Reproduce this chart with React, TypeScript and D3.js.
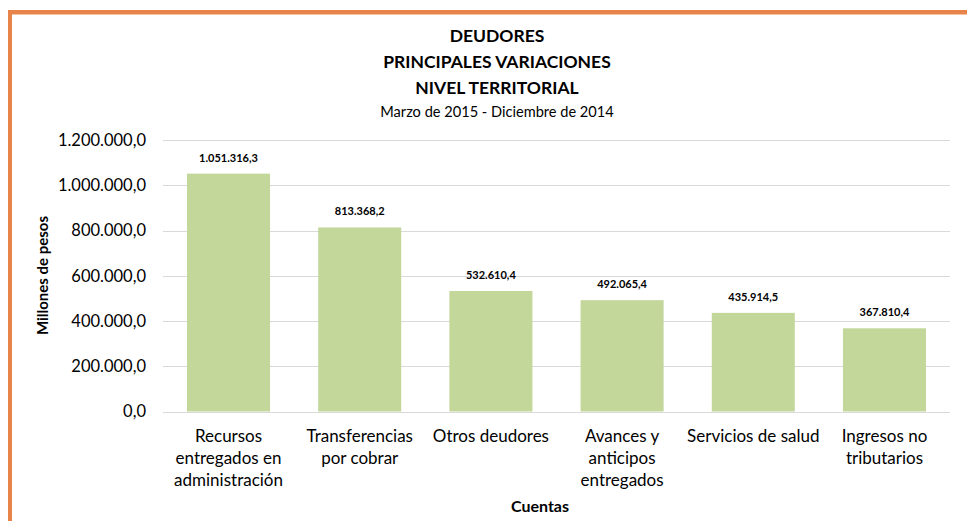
import React from "react";
import * as d3 from "d3";

// Datos: principales variaciones de deudores, nivel territorial
const cuentas = [
  "Recursos entregados en administración",
  "Transferencias por cobrar",
  "Otros deudores",
  "Avances y anticipos entregados",
  "Servicios de salud",
  "Ingresos no tributarios",
];
const cuentaLineas = [
  ["Recursos", "entregados en", "administración"],
  ["Transferencias", "por cobrar"],
  ["Otros deudores"],
  ["Avances y", "anticipos", "entregados"],
  ["Servicios de salud"],
  ["Ingresos no", "tributarios"],
];
const variaciones = [1051316.3, 813368.2, 532610.4, 492065.4, 435914.5, 367810.4];
const yTicks = [0, 200000, 400000, 600000, 800000, 1000000, 1200000];
const titulo = ["DEUDORES", "PRINCIPALES VARIACIONES", "NIVEL TERRITORIAL"];
const subtitulo = "Marzo de 2015 - Diciembre de 2014";

const width = 967;
const height = 521;
const margin = { top: 140, right: 17, bottom: 110, left: 163 };
const font = "Lato, 'Open Sans', sans-serif";

const es = d3.formatLocale({
  decimal: ",",
  thousands: ".",
  grouping: [3],
  currency: ["$", ""],
});
const fmt = es.format(",.1f");

const App = () => {
  const x = d3
    .scaleBand()
    .domain(cuentas)
    .range([margin.left, width - margin.right])
    .paddingInner(0.367)
    .paddingOuter(0.183);
  const y = d3
    .scaleLinear()
    .domain([0, 1200000])
    .range([height - margin.bottom + 0.5, margin.top]);

  const cx = 497;

  return (
    <svg
      width={width}
      height={height}
      style={{ position: "absolute", left: 0, top: 0, background: "#fff" }}
      fontFamily={font}
    >
      {/* marco naranja */}
      <rect x={8} y={10} width={width} height={4} fill="#e8834a" />
      <rect x={12} y={14} width={width} height={1} fill="#f4c3a3" />
      <rect x={8} y={10} width={4} height={height} fill="#e8834a" />

      {titulo.map((t, i) => (
        <text
          key={t}
          x={cx}
          y={42 + i * 26}
          textAnchor="middle"
          fontSize={17.5}
          fontWeight="bold"
          fill="#000"
        >
          {t}
        </text>
      ))}
      <text x={cx} y={117} textAnchor="middle" fontSize={14.6} fill="#000">
        {subtitulo}
      </text>

      {/* grid + eje y */}
      {yTicks.map((t) => (
        <g key={t}>
          <line
            x1={margin.left}
            x2={width - margin.right}
            y1={Math.round(y(t)) + 0.5}
            y2={Math.round(y(t)) + 0.5}
            stroke="#d9d9d9"
            strokeWidth={1}
          />
          <text
            x={146}
            y={y(t)}
            dy="0.35em"
            textAnchor="end"
            fontSize={16.5}
            fill="#000"
          >
            {fmt(t)}
          </text>
        </g>
      ))}

      <text
        transform={`translate(48,${(margin.top + height - margin.bottom) / 2}) rotate(-90)`}
        textAnchor="middle"
        fontSize={15}
        fontWeight="bold"
        fill="#000"
      >
        Millones de pesos
      </text>

      {/* barras */}
      {cuentas.map((c, i) => (
        <g key={c}>
          <rect
            x={x(c)}
            y={y(variaciones[i])}
            width={x.bandwidth()}
            height={y(0) - y(variaciones[i])}
            fill="#c4d79b"
          />
          <text
            x={x(c)! + x.bandwidth() / 2}
            y={y(variaciones[i]) - 12}
            textAnchor="middle"
            fontSize={11}
            fontWeight="bold"
            fill="#000"
          >
            {fmt(variaciones[i])}
          </text>
          {cuentaLineas[i].map((l, j) => (
            <text
              key={l}
              x={x(c)! + x.bandwidth() / 2}
              y={442 + j * 22}
              textAnchor="middle"
              fontSize={17}
              fill="#000"
            >
              {l}
            </text>
          ))}
        </g>
      ))}

      <text
        x={540}
        y={512}
        textAnchor="middle"
        fontSize={16}
        fontWeight="bold"
        fill="#000"
      >
        Cuentas
      </text>
    </svg>
  );
};

export default App;
